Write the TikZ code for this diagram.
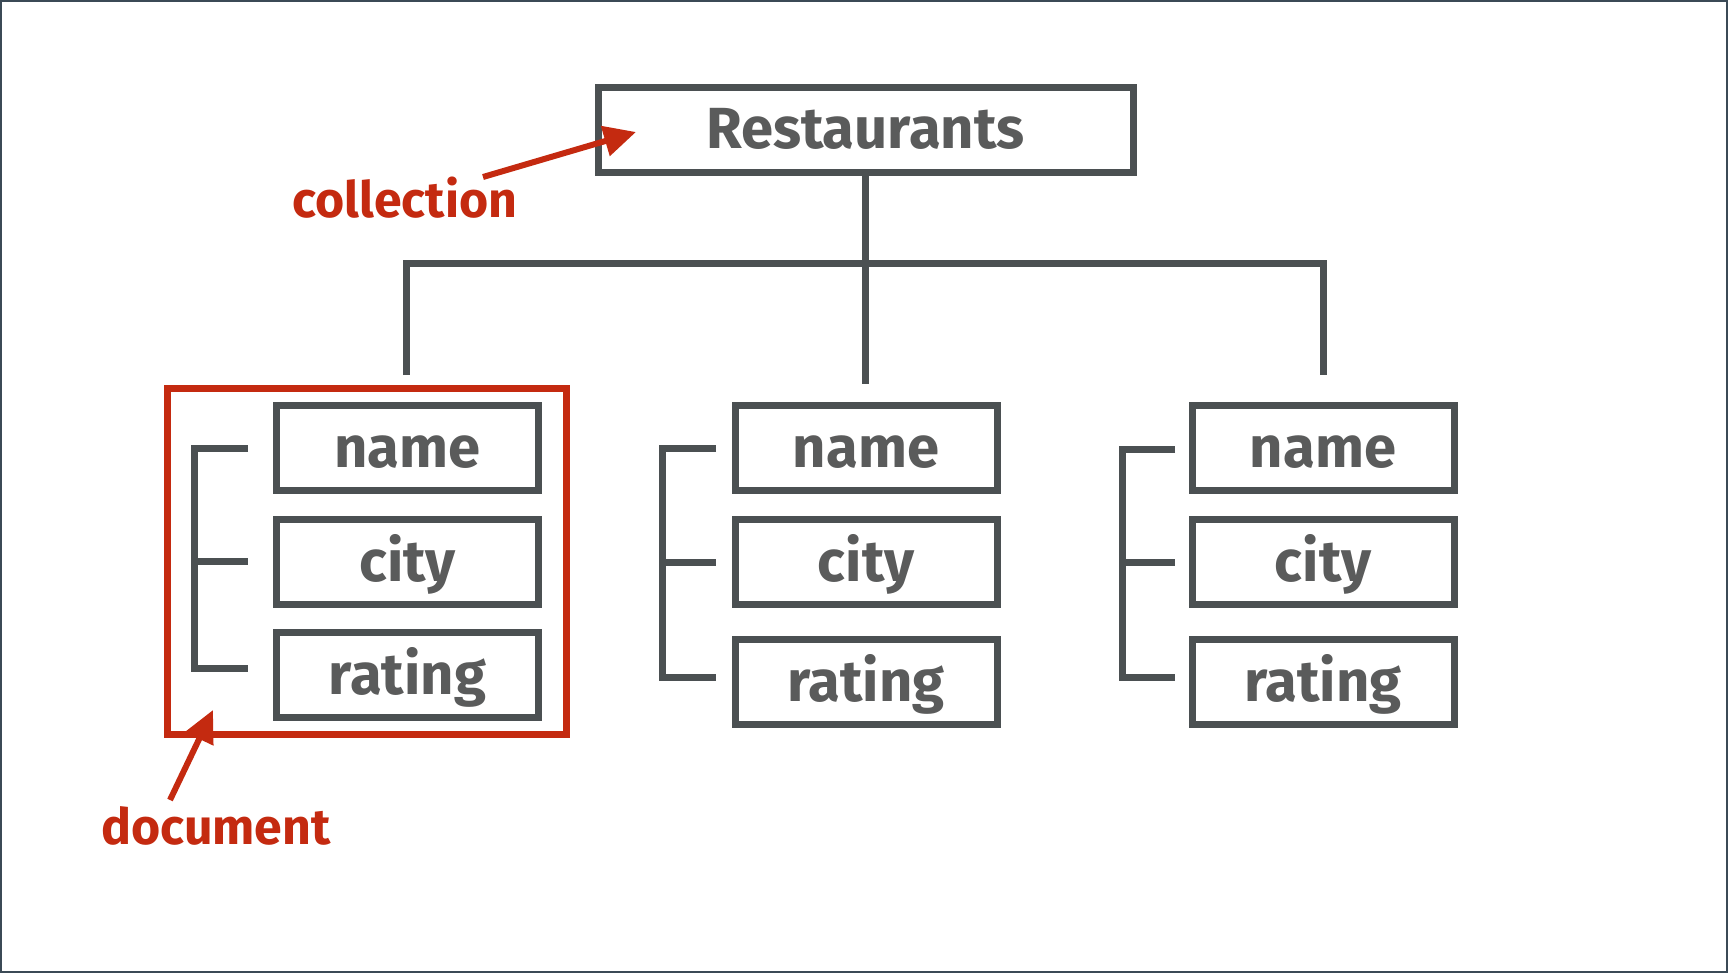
\documentclass[tikz,border=0pt]{standalone}
\usepackage{fontspec}
\setmainfont{Fira Sans}
\usetikzlibrary{arrows.meta}
\definecolor{chalk}{HTML}{4B5052}
\definecolor{chalktext}{HTML}{5A5B5B}
\definecolor{marker}{HTML}{C42A10}
\definecolor{frame}{HTML}{3B4A56}

\begin{document}
\begin{tikzpicture}[x=1pt,y=-1pt]
	\tikzstyle{field}=[draw=chalk, line width=7pt, text=chalktext, minimum width=262pt, minimum height=85pt, inner sep=0pt, text height=50pt, text depth=12pt, font=\fontsize{58}{70}\selectfont\bfseries]
	\tikzstyle{wire}=[draw=chalk, line width=7pt]
	\tikzstyle{note}=[text=marker, inner sep=0pt, font=\fontsize{50}{60}\selectfont\bfseries]
	\tikzstyle{pointer}=[draw=marker, line width=6pt, -{Triangle[length=32pt,width=30pt]}]
	\useasboundingbox (0,0) rectangle (1728,973);
	\draw [frame, line width=2pt] (1,1) rectangle (1727,972);

	\node [field, minimum width=535pt] (rest) at (865.5,130) {Restaurants};

	\coordinate (hubL) at (406.5,264);
	\coordinate (hubR) at (1323.5,264);
	\coordinate (endL) at (406.5,375);
	\coordinate (endM) at (865.5,384);
	\coordinate (endR) at (1323.5,375);
	\draw [wire] (endL) -- (hubL) -- (hubR) -- (endR);
	\draw [wire] (rest.south) -- (endM);

	\node [draw=marker, line width=7pt, minimum width=399pt, minimum height=346pt] (doc) at (367,561.5) {};

	\node [field] (nameL) at (407.5,448) {name};
	\node [field] (cityL) at (407.5,562) {city};
	\node [field] (rateL) at (407.5,675) {rating};
	\node [field] (nameM) at (866,448) {name};
	\node [field] (cityM) at (866,562) {city};
	\node [field] (rateM) at (866,682) {rating};
	\node [field] (nameR) at (1323,448) {name};
	\node [field] (cityR) at (1323,562) {city};
	\node [field] (rateR) at (1323,682) {rating};

	\draw [wire] (248,448) -- (194,448) -- (194,668) -- (248,668);
	\draw [wire] (194,561) -- (248,561);
	\draw [wire] (716,448) -- (662,448) -- (662,677) -- (716,677);
	\draw [wire] (662,562) -- (716,562);
	\draw [wire] (1175,449) -- (1122,449) -- (1122,677) -- (1175,677);
	\draw [wire] (1122,562) -- (1175,562);

	\node [note] (coll) at (405,198) {collection};
	\node [note] (docnote) at (216,826) {document};
	\coordinate (collTail) at (483,177);
	\coordinate (collTip) at (636,132);
	\coordinate (docTail) at (170,800);
	\coordinate (docTip) at (213,710);
	\draw [pointer] (collTail) -- (collTip);
	\draw [pointer] (docTail) -- (docTip);
\end{tikzpicture}
\end{document}
